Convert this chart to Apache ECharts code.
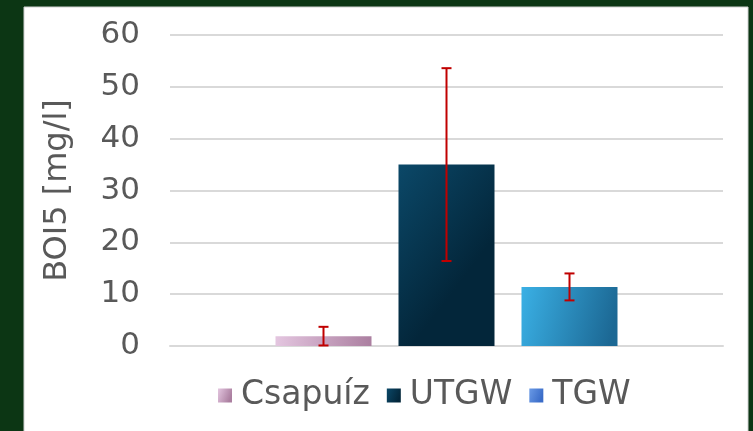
<!DOCTYPE html>
<html>
<head>
<meta charset="utf-8">
<script src="https://cdn.jsdelivr.net/npm/echarts@6/dist/echarts.min.js"></script>
<style>
  html, body { margin: 0; padding: 0; background: #0c3614; }
  #main { width: 753px; height: 431px; }
</style>
</head>
<body>
<div id="main"></div>
<script>
var categories = [''];
var seriesNames = ['Csapuíz', 'UTGW', 'TGW'];
var means = [1.9, 35.0, 11.4];
var errors = [1.8, 18.6, 2.6];
var yTicks = [0, 10, 20, 30, 40, 50, 60];

var barColors = [
    ['#e4c6e0', '#ab7fa0'],
    ['#0b4868', '#03263a'],
    ['#3ab0e5', '#1c6894']
];
var legendColors = [
    ['#e4c6e0', '#ab7fa0'],
    ['#0b4868', '#03263a'],
    ['#6a9ae6', '#3a6cc8']
];
var BAR_W = 96, BAR_GAP = 27;

function grad(c) {
    return new echarts.graphic.LinearGradient(0, 0, 1, 0.4, [
        { offset: 0, color: c[0] }, { offset: 1, color: c[1] }
    ]);
}

var myChart = echarts.init(document.getElementById('main'));
var font = 'DejaVu Sans';

var series = seriesNames.map(function (name, i) {
    return {
        name: name,
        type: 'bar',
        barWidth: BAR_W,
        barGap: (BAR_GAP / BAR_W * 100) + '%',
        data: [means[i]],
        itemStyle: { color: grad(barColors[i]) },
        z: 2
    };
});

var errData = seriesNames.map(function (name, i) {
    return [0, means[i] - errors[i], means[i] + errors[i], i];
});

series.push({
    type: 'custom',
    name: 'err',
    data: errData,
    encode: { x: 0, y: [1, 2] },
    z: 5,
    renderItem: function (params, api) {
        var idx = api.value(3);
        var off = (idx - 1) * (BAR_W + BAR_GAP);
        var lo = api.coord([api.value(0), api.value(1)]);
        var hi = api.coord([api.value(0), api.value(2)]);
        var x = lo[0] + off;
        var hw = 5;
        var st = { stroke: '#c00000', lineWidth: 2 };
        return {
            type: 'group',
            children: [
                { type: 'line', shape: { x1: x, y1: lo[1], x2: x, y2: hi[1] }, style: st },
                { type: 'line', shape: { x1: x - hw, y1: lo[1], x2: x + hw, y2: lo[1] }, style: st },
                { type: 'line', shape: { x1: x - hw, y1: hi[1], x2: x + hw, y2: hi[1] }, style: st }
            ]
        };
    }
});

var option = {
    backgroundColor: '#0c3614',
    animation: false,
    graphic: [{
        type: 'rect',
        shape: { x: 24, y: 7, width: 724, height: 430 },
        style: { fill: '#ffffff', stroke: '#d0d0d0', lineWidth: 1 },
        z: -10
    }],
    grid: { left: 170, right: 30, top: 35, bottom: 85 },
    legend: {
        bottom: 14,
        left: 213,
        icon: 'rect',
        itemWidth: 14,
        itemHeight: 14,
        itemGap: 17,
        textStyle: { fontSize: 33, color: '#595959', fontFamily: font, padding: [0, 0, 0, 4] },
        data: seriesNames.map(function (n, i) {
            return { name: n, itemStyle: { color: grad(legendColors[i]) } };
        })
    },
    xAxis: {
        type: 'category',
        data: categories,
        axisLine: { lineStyle: { color: '#d9d9d9', width: 2 } },
        axisTick: { show: false },
        axisLabel: { show: false }
    },
    yAxis: {
        type: 'value',
        min: yTicks[0],
        max: yTicks[yTicks.length - 1],
        interval: 10,
        name: 'BOI5 [mg/l]',
        nameLocation: 'middle',
        nameGap: 96,
        nameTextStyle: { fontSize: 32, color: '#595959', fontFamily: font },
        axisLine: { show: false },
        axisTick: { show: false },
        axisLabel: { fontSize: 31, color: '#595959', fontFamily: font, margin: 30 },
        splitLine: { lineStyle: { color: '#d9d9d9', width: 2 } }
    },
    series: series
};
myChart.setOption(option);
</script>
</body>
</html>
